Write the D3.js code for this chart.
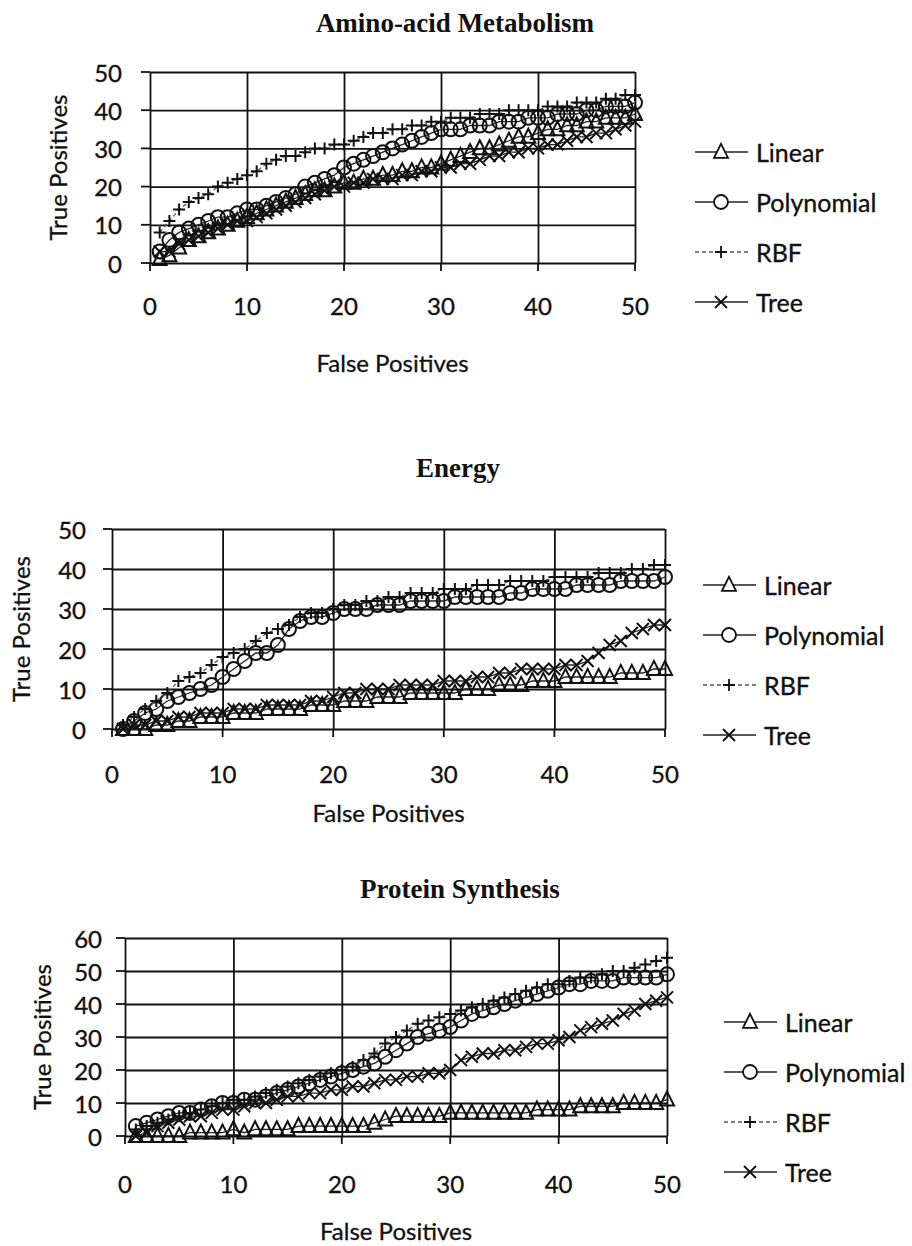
<!DOCTYPE html>
<html>
<head>
<meta charset="utf-8">
<script src="https://cdn.jsdelivr.net/npm/d3@7"></script>
<style>
	html, body { margin: 0; padding: 0; background: #fff; }
	svg text { fill: #111; }
</style>
</head>
<body>
<div id="content-wrapper"></div>
<script>

/***********************************************************************/
//Data
/***********************************************************************/
const falsePositives = [1,2,3,4,5,6,7,8,9,10,11,12,13,14,15,16,17,18,19,20,21,22,23,24,25,26,27,28,29,30,31,32,33,34,35,36,37,38,39,40,41,42,43,44,45,46,47,48,49,50]

const chartTitles = ['Amino-acid Metabolism', 'Energy', 'Protein Synthesis']
const seriesNames = ['Linear', 'Polynomial', 'RBF', 'Tree']
const xTickValues = [0, 10, 20, 30, 40, 50]
const yTicks50 = [0, 10, 20, 30, 40, 50]
const yTicks60 = [0, 10, 20, 30, 40, 50, 60]
const xAxisTitle = 'False Positives'
const yAxisTitle = 'True Positives'

const aminoLinear = [1,2,4,6,7,8,9,10,11,12, 13,14,15,16,17,18,19,19,20,21, 21,22,22,23,23,24,24,25,25,26, 27,28,29,30,30,31,32,33,33,34, 35,35,36,36,37,37,38,38,38,39]
const aminoPolynomial = [3,6,8,9,10,11,12,12,13,14, 14,15,16,17,18,20,21,22,23,25, 26,27,28,29,30,31,32,33,34,35, 35,35,36,36,36,37,37,37,38,38, 38,39,39,39,40,40,41,41,41,42]
const aminoRbf = [8,11,14,16,17,18,20,21,22,23, 24,26,27,28,28,29,30,30,31,31, 32,33,34,34,35,35,36,36,37,37, 38,38,38,39,39,39,40,40,40,40, 41,41,41,42,42,42,43,43,44,44]
const aminoTree = [3,3,5,6,7,8,9,10,11,11, 12,13,14,15,16,17,18,19,20,20, 21,21,22,22,22,23,23,24,24,25, 25,26,26,27,28,28,29,29,30,30, 31,31,32,33,33,34,34,35,36,37]

const energyLinear = [0,0,0,1,1,2,2,3,3,3, 4,4,4,5,5,5,5,6,6,6, 7,7,7,8,8,8,9,9,9,9, 9,10,10,10,11,11,11,12,12,12, 13,13,13,13,13,14,14,14,15,15]
const energyPolynomial = [0,2,4,5,7,8,9,10,11,13, 15,17,19,19,21,25,27,28,28,29, 30,30,30,31,31,31,32,32,32,32, 33,33,33,33,33,34,34,35,35,35, 35,36,36,36,36,37,37,37,37,38]
const energyRbf = [1,3,5,7,9,12,13,14,16,18, 19,20,22,24,25,26,28,29,29,30, 31,31,32,32,33,33,34,34,34,35, 35,35,36,36,36,37,37,37,37,38, 38,38,38,39,39,39,40,40,41,41]
const energyTree = [0,1,1,2,2,3,3,4,4,4, 5,5,5,6,6,6,6,7,7,8, 9,9,10,10,10,11,11,11,11,12, 12,12,13,13,14,14,15,15,15,15, 16,16,17,19,21,22,24,25,26,26]

const proteinLinear = [0,0,0,0,0,1,1,1,1,2, 1,2,2,2,2,3,3,3,3,3, 3,3,4,5,6,6,6,6,6,7, 7,7,7,7,7,7,7,8,8,8, 8,9,9,9,9,10,10,10,10,11]
const proteinPolynomial = [3,4,5,6,7,7,8,9,10,10, 11,11,12,13,14,15,16,17,18,19, 20,21,22,24,26,28,30,31,32,33, 35,37,38,39,40,41,42,43,44,45, 46,46,47,47,47,48,48,48,48,49]
const proteinRbf = [2,3,4,5,6,7,8,9,10,11, 11,12,13,14,15,16,17,18,19,20, 21,23,25,28,30,32,34,35,36,37, 38,39,40,41,42,43,44,45,46,46, 47,48,48,49,50,50,51,52,53,54]
const proteinTree = [0,1,3,4,5,6,6,7,8,8, 9,10,10,11,12,12,13,13,14,14, 15,15,16,17,17,18,18,19,19,20, 23,24,25,25,26,26,27,28,28,29, 30,32,33,34,35,37,38,40,41,42]

/***********************************************************************/
//Layout
/***********************************************************************/
const width = 912
const height = 1246

const sansFont = 'Lato, "Open Sans", "DejaVu Sans", sans-serif'
const serifFont = '"Liberation Serif", "DejaVu Serif", serif'

const charts = [
	{
		title : chartTitles[0], yTicks : yTicks50, yMax : 50,
		series : [aminoLinear, aminoPolynomial, aminoRbf, aminoTree],
		left : 150, right : 635, top : 72, bottom : 263,
		titleX : 455, titleY : 32, yLabelX : 122, xLabelY : 305,
		xTitleY : 362, yTitleX : 57, legendX : 695, legendY : 152
	},
	{
		title : chartTitles[1], yTicks : yTicks50, yMax : 50,
		series : [energyLinear, energyPolynomial, energyRbf, energyTree],
		left : 112, right : 665, top : 529, bottom : 729,
		titleX : 458, titleY : 477, yLabelX : 86, xLabelY : 773,
		xTitleY : 812, yTitleX : 20, legendX : 703, legendY : 585
	},
	{
		title : chartTitles[2], yTicks : yTicks60, yMax : 60,
		series : [proteinLinear, proteinPolynomial, proteinRbf, proteinTree],
		left : 125, right : 667, top : 938, bottom : 1136,
		titleX : 460, titleY : 898, yLabelX : 102, xLabelY : 1183,
		xTitleY : 1230, yTitleX : 41, legendX : 724, legendY : 1022
	}
]

/***********************************************************************/
//Markers
/***********************************************************************/
const triangleType = { draw(ctx, s) {
	ctx.moveTo(0, -s * 0.58)
	ctx.lineTo(s * 0.5, s * 0.42)
	ctx.lineTo(-s * 0.5, s * 0.42)
	ctx.closePath()
}}
const circleType = { draw(ctx, s) {
	ctx.moveTo(s / 2, 0)
	ctx.arc(0, 0, s / 2, 0, Math.PI * 2)
}}
const plusType = { draw(ctx, s) {
	ctx.moveTo(-s / 2, 0); ctx.lineTo(s / 2, 0)
	ctx.moveTo(0, -s / 2); ctx.lineTo(0, s / 2)
}}
const timesType = { draw(ctx, s) {
	ctx.moveTo(-s / 2, -s / 2); ctx.lineTo(s / 2, s / 2)
	ctx.moveTo(s / 2, -s / 2); ctx.lineTo(-s / 2, s / 2)
}}

const styles = [
	{ type : triangleType, size : 14, dash : null, lineColor : '#222' },
	{ type : circleType, size : 14, dash : null, lineColor : '#222' },
	{ type : plusType, size : 12, dash : '4,3', lineColor : '#555' },
	{ type : timesType, size : 12, dash : null, lineColor : '#222' }
]

/***********************************************************************/
//Dom
/***********************************************************************/
const svg = d3.select('#content-wrapper')
	.append('svg')
	.attr('width', width)
	.attr('height', height)

svg.append('rect')
	.attr('width', width)
	.attr('height', height)
	.attr('fill', '#fff')

charts.forEach(drawChart)

function drawChart(c) {

	const g = svg.append('g')

	const xScale = d3.scaleLinear()
		.domain([0, 50])
		.range([c.left, c.right])

	const yScale = d3.scaleLinear()
		.domain([0, c.yMax])
		.range([c.bottom, c.top])

	// grid
	const yAxis = d3.axisLeft(yScale)
		.tickValues(c.yTicks)
		.tickSize(-(c.right - c.left))
		.tickSizeOuter(0)
		.tickFormat('')

	const xAxis = d3.axisBottom(xScale)
		.tickValues(xTickValues)
		.tickSize(-(c.bottom - c.top))
		.tickSizeOuter(0)
		.tickFormat('')

	const yG = g.append('g')
		.attr('transform', 'translate(' + c.left + ',0)')
		.call(yAxis)
	const xG = g.append('g')
		.attr('transform', 'translate(0,' + c.bottom + ')')
		.call(xAxis)

	yG.select('.domain').remove()
	xG.select('.domain').remove()
	g.selectAll('.tick line')
		.attr('stroke', '#111')
		.attr('stroke-width', 1.8)

	// outside tick marks
	g.append('g').selectAll('line')
		.data(c.yTicks)
		.join('line')
		.attr('x1', c.left - 9)
		.attr('x2', c.left)
		.attr('y1', d => yScale(d))
		.attr('y2', d => yScale(d))
		.attr('stroke', '#111')
		.attr('stroke-width', 1.8)

	g.append('g').selectAll('line')
		.data(xTickValues)
		.join('line')
		.attr('x1', d => xScale(d))
		.attr('x2', d => xScale(d))
		.attr('y1', c.bottom)
		.attr('y2', c.bottom + 8)
		.attr('stroke', '#111')
		.attr('stroke-width', 1.8)

	// tick labels
	g.append('g').selectAll('text')
		.data(c.yTicks)
		.join('text')
		.attr('x', c.yLabelX)
		.attr('y', d => yScale(d))
		.attr('text-anchor', 'end')
		.attr('dominant-baseline', 'central')
		.style('font-family', sansFont)
		.style('font-size', '24px')
		.style('stroke', '#111')
		.style('stroke-width', 0.35)
		.text(d => d)

	g.append('g').selectAll('text')
		.data(xTickValues)
		.join('text')
		.attr('x', d => xScale(d))
		.attr('y', c.xLabelY)
		.attr('text-anchor', 'middle')
		.attr('dominant-baseline', 'central')
		.style('font-family', sansFont)
		.style('font-size', '24px')
		.style('stroke', '#111')
		.style('stroke-width', 0.35)
		.text(d => d)

	// titles
	g.append('text')
		.attr('x', c.titleX)
		.attr('y', c.titleY)
		.attr('text-anchor', 'middle')
		.style('font-family', serifFont)
		.style('font-weight', 'bold')
		.style('font-size', '27px')
		.text(c.title)

	g.append('text')
		.attr('x', (c.left + c.right) / 2)
		.attr('y', c.xTitleY)
		.attr('text-anchor', 'middle')
		.attr('dominant-baseline', 'central')
		.style('font-family', sansFont)
		.style('font-size', '24px')
		.style('stroke', '#111')
		.style('stroke-width', 0.3)
		.text(xAxisTitle)

	g.append('text')
		.attr('transform', 'translate(' + c.yTitleX + ',' + (c.top + c.bottom) / 2 + ') rotate(-90)')
		.attr('text-anchor', 'middle')
		.attr('dominant-baseline', 'central')
		.style('font-family', sansFont)
		.style('font-size', '24px')
		.style('stroke', '#111')
		.style('stroke-width', 0.3)
		.text(yAxisTitle)

	// series
	const line = d3.line()
		.x((d, i) => xScale(falsePositives[i]))
		.y(d => yScale(d))

	c.series.forEach((values, s) => {
		const st = styles[s]
		g.append('path')
			.datum(values)
			.attr('fill', 'none')
			.attr('stroke', st.lineColor)
			.attr('stroke-width', 1.3)
			.attr('stroke-dasharray', st.dash)
			.attr('d', line)

		g.append('g').selectAll('path')
			.data(values)
			.join('path')
			.attr('transform', (d, i) => 'translate(' + xScale(falsePositives[i]) + ',' + yScale(d) + ')')
			.attr('d', d3.symbol(st.type, st.size))
			.attr('fill', 'none')
			.attr('stroke', '#111')
			.attr('stroke-width', 2)
	})

	// legend
	const legend = g.append('g')
		.attr('transform', 'translate(' + c.legendX + ',' + c.legendY + ')')

	const rows = legend.selectAll('g')
		.data(seriesNames)
		.join('g')
		.attr('transform', (d, i) => 'translate(0,' + i * 50 + ')')

	rows.append('line')
		.attr('x1', 0)
		.attr('x2', 53)
		.attr('stroke', (d, i) => styles[i].lineColor)
		.attr('stroke-width', 1.3)
		.attr('stroke-dasharray', (d, i) => styles[i].dash)

	rows.append('path')
		.attr('transform', 'translate(26,0)')
		.attr('d', (d, i) => d3.symbol(styles[i].type, styles[i].size)())
		.attr('fill', '#fff')
		.attr('stroke', '#111')
		.attr('stroke-width', 1.8)

	rows.append('text')
		.attr('x', 61)
		.attr('dominant-baseline', 'central')
		.style('font-family', sansFont)
		.style('font-size', '25px')
		.style('stroke', '#111')
		.style('stroke-width', 0.35)
		.text(d => d)
}
</script>
</body>
</html>
